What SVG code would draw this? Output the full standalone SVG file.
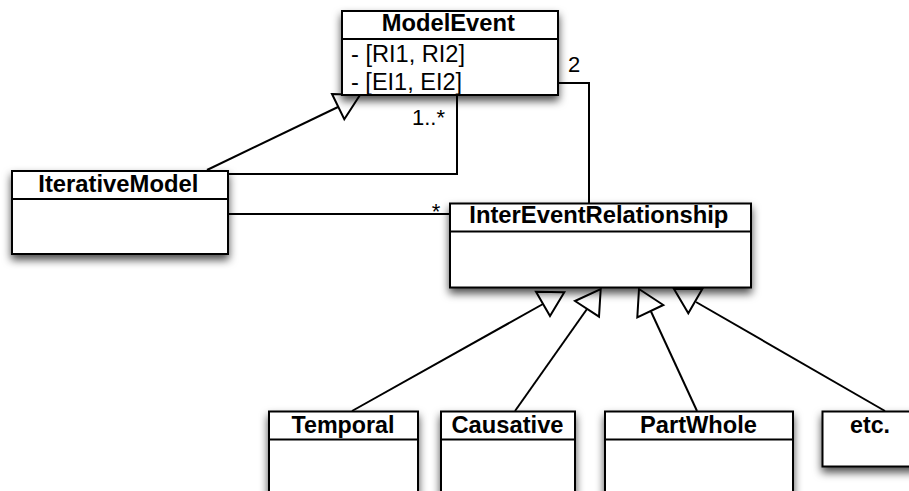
<svg xmlns="http://www.w3.org/2000/svg" width="909" height="491" viewBox="0 0 909 491">
<defs>
<filter id="sh" x="-20%" y="-20%" width="140%" height="160%">
<feDropShadow dx="0" dy="5" stdDeviation="4" flood-color="#000" flood-opacity="0.7"/>
</filter>
</defs>
<style>
.box{fill:#fff;stroke:#000;stroke-width:2;filter:url(#sh)}
.div{stroke:#000;stroke-width:2;fill:none}
.ln{stroke:#000;stroke-width:2;fill:none}
.tri{stroke:#000;stroke-width:2;fill:none;stroke-linejoin:miter}
.t{font-family:"Liberation Sans",Arial,sans-serif;font-size:23px;font-weight:bold;text-anchor:middle;fill:#000}
.a{font-family:"Liberation Sans",Arial,sans-serif;font-size:23px;fill:#000}
.m{font-family:"Liberation Sans",Arial,sans-serif;font-size:22px;fill:#000}
</style>
<rect width="909" height="491" fill="#fff"/>
<g id="connectors">
<line class="ln" x1="207" y1="170" x2="338" y2="107"/>
<polygon class="tri" points="332,94 360,95 344.3,119.3"/>
<polyline class="ln" points="457,95 457,174 228,174"/>
<line class="ln" x1="228" y1="214" x2="450" y2="214"/>
<polyline class="ln" points="558,83 589,83 589,203"/>
<line class="ln" x1="352" y1="411" x2="543" y2="304"/>
<polygon class="tri" points="536,291.7 564.3,292.3 550,316"/>
<line class="ln" x1="515" y1="411" x2="587" y2="309"/>
<polygon class="tri" points="575,301 600.7,289 599,316.7"/>
<line class="ln" x1="697" y1="411" x2="651" y2="311.5"/>
<polygon class="tri" points="639,289 663.3,305 637.3,317.3"/>
<line class="ln" x1="885" y1="411" x2="696" y2="302"/>
<polygon class="tri" points="674,289 702.3,289 688.3,313.3"/>
<text class="m" x="574" y="72" text-anchor="middle">2</text>
<text class="m" x="412" y="125">1..*</text>
<text class="m" x="436" y="219" text-anchor="middle">*</text>
</g>
<g id="ModelEvent">
<rect class="box" x="342" y="11" width="216" height="84"/>
<line class="div" x1="342" y1="39" x2="558" y2="39"/>
<text class="t" x="448.3" y="31" textLength="133" lengthAdjust="spacingAndGlyphs">ModelEvent</text>
<text class="a" x="351" y="62" textLength="114" lengthAdjust="spacingAndGlyphs">- [RI1, RI2]</text>
<text class="a" x="351" y="90" textLength="111" lengthAdjust="spacingAndGlyphs">- [EI1, EI2]</text>
</g>
<g id="IterativeModel">
<rect class="box" x="12" y="171" width="216" height="83"/>
<line class="div" x1="12" y1="199" x2="228" y2="199"/>
<text class="t" x="118.3" y="192" textLength="160" lengthAdjust="spacingAndGlyphs">IterativeModel</text>
</g>
<g id="InterEventRelationship">
<rect class="box" x="450" y="203.5" width="301" height="84"/>
<line class="div" x1="450" y1="231.5" x2="751" y2="231.5"/>
<text class="t" x="598.8" y="223" textLength="259" lengthAdjust="spacingAndGlyphs">InterEventRelationship</text>
</g>
<g id="Temporal">
<rect class="box" x="269" y="411.5" width="149" height="100"/>
<line class="div" x1="269" y1="439.5" x2="418" y2="439.5"/>
<text class="t" x="343" y="433" textLength="103" lengthAdjust="spacingAndGlyphs">Temporal</text>
</g>
<g id="Causative">
<rect class="box" x="441" y="411.5" width="134" height="100"/>
<line class="div" x1="441" y1="439.5" x2="575" y2="439.5"/>
<text class="t" x="507.5" y="433" textLength="112" lengthAdjust="spacingAndGlyphs">Causative</text>
</g>
<g id="PartWhole">
<rect class="box" x="605" y="411.5" width="188" height="100"/>
<line class="div" x1="605" y1="439.5" x2="793" y2="439.5"/>
<text class="t" x="698.5" y="433" textLength="117" lengthAdjust="spacingAndGlyphs">PartWhole</text>
</g>
<g id="etc">
<rect class="box" x="822.5" y="411.5" width="96" height="55"/>
<text class="t" x="870" y="433" textLength="40" lengthAdjust="spacingAndGlyphs">etc.</text>
</g>
</svg>
